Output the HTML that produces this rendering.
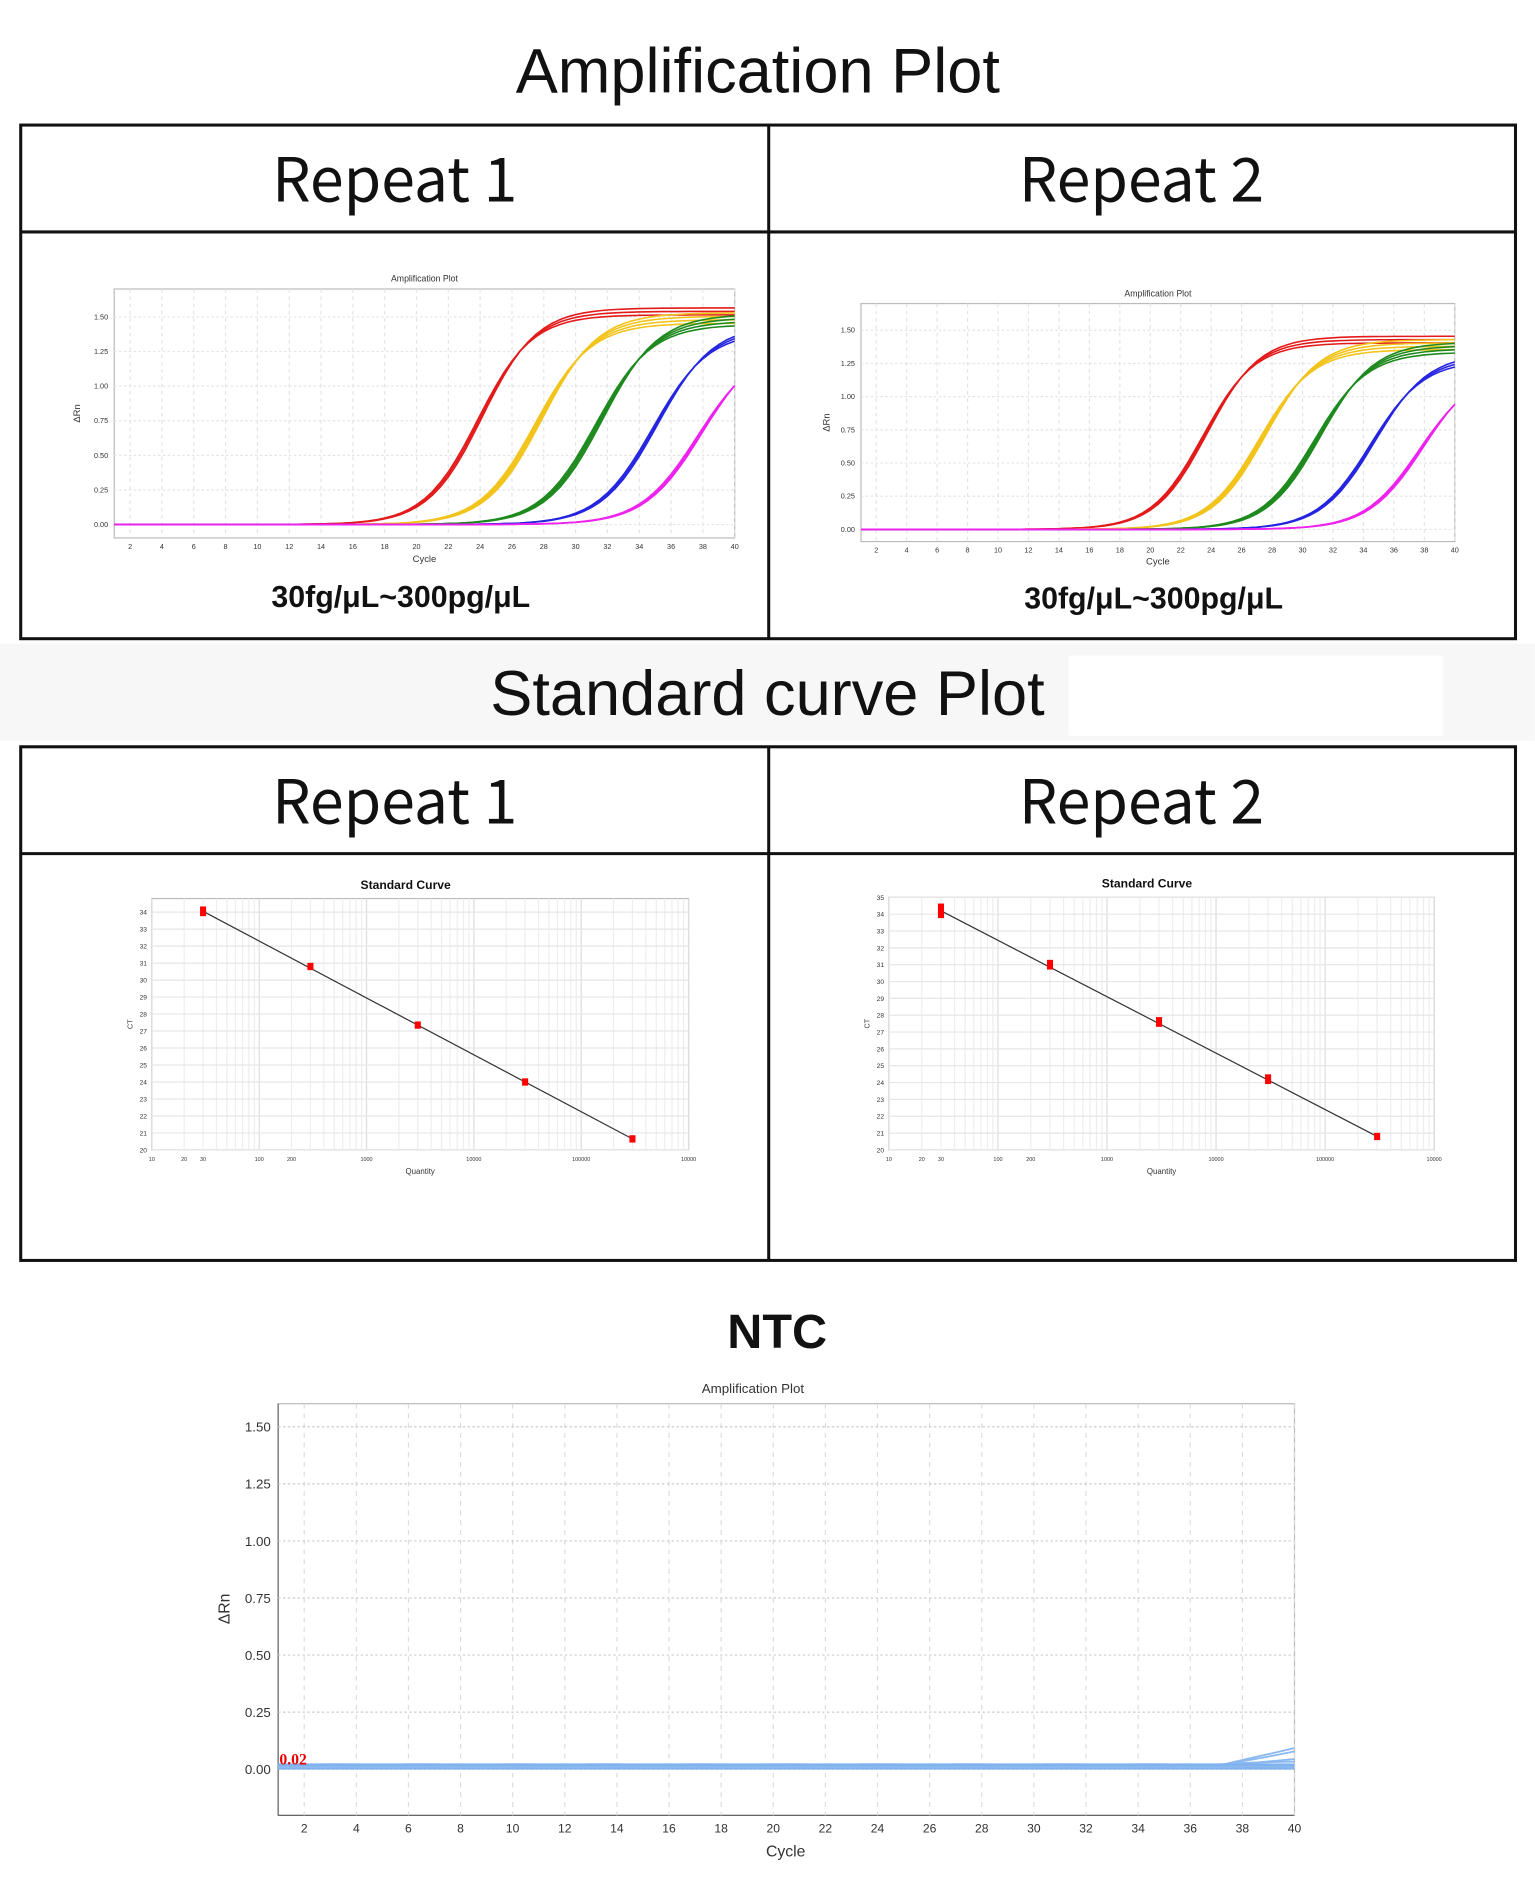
<!DOCTYPE html>
<html><head><meta charset="utf-8"><style>
html,body{margin:0;padding:0;background:#fff;}
svg{display:block}
</style></head><body>
<svg id="s" width="1535" height="1904" viewBox="0 0 1264 1568" xmlns="http://www.w3.org/2000/svg" font-family="Liberation Sans, sans-serif">
<rect width="1264" height="1568" fill="#fff"/>
<rect x="0" y="530" width="1264" height="80" fill="#f7f7f7"/>
<rect x="880" y="540" width="308" height="66" fill="#fff"/>
<text x="624" y="76" font-size="52" text-anchor="middle" fill="#111">Amplification Plot</text>
<text x="632" y="589" font-size="52" text-anchor="middle" fill="#111">Standard curve Plot</text>
<text x="640" y="1110" font-size="40" font-weight="bold" text-anchor="middle" fill="#111">NTC</text>
<g stroke="#111" stroke-width="2.5" fill="none">
<rect x="17" y="103" width="1231" height="423"/>
<line x1="17" y1="191" x2="1248" y2="191"/><line x1="633" y1="103" x2="633" y2="526"/>
<rect x="17" y="615" width="1231" height="423"/>
<line x1="17" y1="703" x2="1248" y2="703"/><line x1="633" y1="615" x2="633" y2="1038"/>
</g>
<g font-size="50" text-anchor="middle" fill="#111" font-family="Noto Sans CJK SC, Liberation Sans, sans-serif">
<text x="325" y="166">Repeat 1</text><text x="940" y="166">Repeat 2</text>
<text x="325" y="678">Repeat 1</text><text x="940" y="678">Repeat 2</text>
</g>
<g font-size="25" font-weight="bold" text-anchor="middle" fill="#111">
<text x="330" y="500">30fg/μL~300pg/μL</text><text x="950" y="501">30fg/μL~300pg/μL</text>
</g>
<g id="g"></g>
</svg>
<script>
const g=document.getElementById('g');let h='';
function amp(o){const{x0,x1,y0,y1,ytop,ybot,fs,title,ty,cyc,curves}=o;
 const X=c=>x0+(c-1)*(x1-x0)/39, Y=v=>ybot-v*(ybot-ytop)/1.5;
 h+=`<rect x="${x0}" y="${y0}" width="${x1-x0}" height="${y1-y0}" fill="#fff" stroke="#bbb"/>`;
 for(let c=2;c<=40;c+=2){h+=`<line x1="${X(c)}" y1="${y0}" x2="${X(c)}" y2="${y1}" stroke="#e4e4e4" stroke-dasharray="3,3"/>`;
  h+=`<text x="${X(c)}" y="${y1+fs+3}" font-size="${fs}" text-anchor="middle" fill="#333">${c}</text>`;}
 for(let i=0;i<=6;i++){const v=i*0.25;h+=`<line x1="${x0}" y1="${Y(v)}" x2="${x1}" y2="${Y(v)}" stroke="#e4e4e4" stroke-dasharray="2,2"/>`;
  h+=`<text x="${x0-5}" y="${Y(v)+fs/3}" font-size="${fs}" text-anchor="end" fill="#333">${v.toFixed(2)}</text>`;}
 h+=`<text x="${(x0+x1)/2}" y="${ty}" font-size="${fs*1.2}" text-anchor="middle" fill="#333">${title}</text>`;
 h+=`<text x="${(x0+x1)/2}" y="${cyc}" font-size="${fs*1.3}" text-anchor="middle" fill="#333">Cycle</text>`;
 h+=`<text transform="translate(${x0-o.yl},${(y0+y1)/2}) rotate(-90)" font-size="${fs*1.3}" text-anchor="middle" fill="#333">ΔRn</text>`;
 curves.forEach(([col,m,P,s,n])=>{for(let k=0;k<n;k++){const mm=m+(k-1)*0.15,PP=P+(k-1)*0.025;let d='';
  for(let c=1;c<=40;c+=0.5){const v=PP/(1+Math.exp(-(c-mm)/s));d+=(c==1?'M':'L')+X(c).toFixed(1)+','+Y(v).toFixed(1);}
  h+=`<path d="${d}" fill="none" stroke="${col}" stroke-width="1.3"/>`;}});}
amp({x0:94,x1:605,y0:238,y1:443,ytop:261,ybot:432,fs:6,title:'Amplification Plot',ty:232,cyc:463,yl:28,
 curves:[['#e31a1a',24,1.54,1.7,3],['#f2c31a',27.6,1.48,1.75,4],['#1e8a1e',31.4,1.47,1.75,4],['#2525e0',35,1.42,1.75,3],['#ee22ee',37.8,1.3,1.8,3]]});
amp({x0:709,x1:1198,y0:250,y1:446,ytop:272,ybot:436,fs:6,title:'Amplification Plot',ty:244,cyc:465,yl:26,
 curves:[['#e31a1a',23.6,1.43,1.7,3],['#f2c31a',27.3,1.38,1.75,4],['#1e8a1e',30.9,1.36,1.75,4],['#2525e0',34.6,1.3,1.75,3],['#ee22ee',37.8,1.22,1.8,3]]});
function std(o){const{x0,x1,y0,y1,ymin,ymax,pts}=o;
 const X=q=>x0+Math.log10(q/10)*(x1-x0)/5, Y=v=>y1-(v-ymin)*(y1-y0)/(ymax-ymin);
 h+=`<rect x="${x0-30}" y="${y0-25}" width="${x1-x0+40}" height="${y1-y0+60}" fill="#fff"/>`;
 h+=`<rect x="${x0}" y="${y0}" width="${x1-x0}" height="${y1-y0}" fill="#fff" stroke="#bbb"/>`;
 for(let d=1;d<=100000;d*=10)for(let k=1;k<10;k++){const q=10*d*k;if(q>1e6)break;h+=`<line x1="${X(q)}" y1="${y0}" x2="${X(q)}" y2="${y1}" stroke="${k==1?'#ddd':'#eee'}"/>`;}
 for(let v=ymin;v<=Math.floor(ymax);v++){h+=`<line x1="${x0}" y1="${Y(v)}" x2="${x1}" y2="${Y(v)}" stroke="#e6e6e6"/>`;
  h+=`<text x="${x0-4}" y="${Y(v)+2}" font-size="5.5" text-anchor="end" fill="#333">${v}</text>`;}
 [[10,'10'],[20,'20'],[30,'30'],[100,'100'],[200,'200'],[1000,'1000'],[10000,'10000'],[100000,'100000'],[1000000,'10000']].forEach(([q,t])=>h+=`<text x="${X(q)}" y="${y1+9}" font-size="4.5" text-anchor="middle" fill="#333">${t}</text>`);
 h+=`<text x="${(x0+x1)/2-12}" y="${y0-8}" font-size="10" font-weight="bold" text-anchor="middle" fill="#111">Standard Curve</text>`;
 h+=`<text x="${(x0+x1)/2}" y="${y1+20}" font-size="6.5" text-anchor="middle" fill="#333">Quantity</text>`;
 h+=`<text transform="translate(${x0-16},${(y0+y1)/2}) rotate(-90)" font-size="6" text-anchor="middle" fill="#333">CT</text>`;
 const a=pts[0],b=pts[pts.length-1];
 h+=`<line x1="${X(a[0])}" y1="${Y(a[1])}" x2="${X(b[0])}" y2="${Y(b[1])}" stroke="#333" stroke-width="1"/>`;
 pts.forEach(([q,v,hh])=>h+=`<rect x="${X(q)-2.5}" y="${Y(v)-hh/2}" width="5" height="${hh}" fill="#f00"/>`);}
std({x0:125,x1:567,y0:740,y1:947,ymin:20,ymax:34.8,pts:[[30,34.05,8],[300,30.8,6],[3000,27.35,6],[30000,24.0,6],[300000,20.65,6]]});
std({x0:732,x1:1181,y0:739,y1:947,ymin:20,ymax:35,pts:[[30,34.2,12],[300,31.0,8],[3000,27.6,8],[30000,24.2,8],[300000,20.8,6]]});
(function(){const x0=229,x1=1066,y0=1156,y1=1495,X=c=>x0+(c-1)*(x1-x0)/39,Y=v=>1457-v*188;
 h+=`<rect x="${x0}" y="${y0}" width="${x1-x0}" height="${y1-y0}" fill="#fff" stroke="#bbb"/>`;
 h+=`<line x1="${x0}" y1="${y1}" x2="${x1}" y2="${y1}" stroke="#666"/><line x1="${x0}" y1="${y0}" x2="${x0}" y2="${y1}" stroke="#666"/>`;
 for(let c=2;c<=40;c+=2){h+=`<line x1="${X(c)}" y1="${y0}" x2="${X(c)}" y2="${y1}" stroke="#ddd" stroke-dasharray="4,4"/>`;
  h+=`<text x="${X(c)}" y="${y1+14}" font-size="10" text-anchor="middle" fill="#333">${c}</text>`;}
 for(let i=0;i<=6;i++){const v=i*0.25;h+=`<line x1="${x0}" y1="${Y(v)}" x2="${x1}" y2="${Y(v)}" stroke="#ccc" stroke-dasharray="2,2"/>`;
  h+=`<text x="${x0-6}" y="${Y(v)+4}" font-size="11" text-anchor="end" fill="#333">${v.toFixed(2)}</text>`;}
 h+=`<text x="620" y="1147" font-size="11" text-anchor="middle" fill="#333">Amplification Plot</text>`;
 h+=`<text x="647" y="1529" font-size="13" text-anchor="middle" fill="#333">Cycle</text>`;
 h+=`<text transform="translate(189,1325) rotate(-90)" font-size="13" text-anchor="middle" fill="#333">ΔRn</text>`;
 h+=`<rect x="${x0}" y="${Y(0.025)}" width="${x1-x0}" height="5" fill="#7fb2ee"/>`;
 const ends=[0.1,0.08,0.04,0.02,0.005,0.03];
 ends.forEach((e,i)=>{let d='';for(let c=1;c<=40;c+=0.5){let v=0.015+(i%3-1)*0.004+Math.sin(c*0.9+i)*0.003;if(c>37)v+= (e-0.015)*(c-37)/3;d+=(c==1?'M':'L')+X(c).toFixed(1)+','+Y(v).toFixed(1);}
  h+=`<path d="${d}" fill="none" stroke="#8ab8ef" stroke-width="1.5"/>`;});
 h+=`<line x1="${x0}" y1="${Y(0.02)}" x2="${x1}" y2="${Y(0.02)}" stroke="#7fb2ee" stroke-width="2"/>`;
 h+=`<text x="230" y="1453" font-size="13" font-weight="bold" font-family="Liberation Serif, serif" fill="#e00">0.02</text>`;
})();
g.innerHTML=h;
</script>
</body></html>
